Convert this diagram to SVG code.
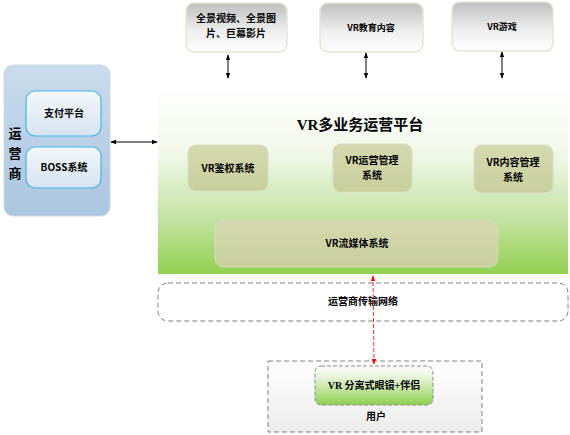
<svg xmlns="http://www.w3.org/2000/svg" width="570" height="435" viewBox="0 0 570 435">
<defs>
<linearGradient id="gTop" x1="0" y1="0" x2="0" y2="1"><stop offset="0" stop-color="#bfbfbf"/><stop offset="0.55" stop-color="#ececec"/><stop offset="1" stop-color="#ffffff"/></linearGradient>
<linearGradient id="gPlat" x1="0" y1="0" x2="0" y2="1"><stop offset="0" stop-color="#ffffff"/><stop offset="0.35" stop-color="#f1f8ea"/><stop offset="0.7" stop-color="#c3e3a2"/><stop offset="1" stop-color="#92d050"/></linearGradient>
<linearGradient id="gOp" x1="0" y1="0" x2="0" y2="1"><stop offset="0" stop-color="#c9dbed"/><stop offset="1" stop-color="#abc6df"/></linearGradient>
<linearGradient id="gIn" x1="0" y1="0" x2="0" y2="1"><stop offset="0" stop-color="#f3f7fb"/><stop offset="1" stop-color="#d6e3f0"/></linearGradient>
<linearGradient id="gSys" x1="0" y1="0" x2="0" y2="1"><stop offset="0" stop-color="#d4d9b0"/><stop offset="1" stop-color="#c8cf9c"/></linearGradient>
<linearGradient id="gUser" x1="0" y1="0" x2="0" y2="1"><stop offset="0" stop-color="#ffffff"/><stop offset="1" stop-color="#ececec"/></linearGradient>
<linearGradient id="gGl" x1="0" y1="0" x2="0" y2="1"><stop offset="0" stop-color="#ffffff"/><stop offset="0.3" stop-color="#e6f3d8"/><stop offset="1" stop-color="#8fcf4f"/></linearGradient>
<marker id="ab" viewBox="0 0 8 8" refX="7" refY="4" markerWidth="6" markerHeight="6" orient="auto-start-reverse"><path d="M0,1 L8,4 L0,7 Z" fill="#000"/></marker>
<marker id="ar" viewBox="0 0 8 8" refX="7" refY="4" markerWidth="6" markerHeight="6" orient="auto-start-reverse"><path d="M0,1 L8,4 L0,7 Z" fill="#ff0000"/></marker>
</defs>
<style>
.t{font-family:"Noto Sans CJK SC","DejaVu Sans",sans-serif;font-weight:bold;font-size:10px;fill:#000;text-anchor:middle}
.top{fill:url(#gTop);stroke:#e2e6d8;stroke-width:1.5}
.sys{fill:url(#gSys);stroke:#d9dcc0;stroke-width:1}
.inner{fill:url(#gIn);stroke:#3fb6e8;stroke-width:1.2}
.dash{fill:none;stroke:#7f7f7f;stroke-width:1;stroke-dasharray:5,3}
.v{font-size:13px}
</style>

<g id="operator">
<rect x="4" y="65" width="106" height="151" rx="9" fill="url(#gOp)" stroke="#d0d8e0"/>
<text class="t v" x="15" y="138">运</text>
<text class="t v" x="15" y="158">营</text>
<text class="t v" x="15" y="178">商</text>
</g>
<g id="pay"><rect class="inner" x="26" y="91" width="75" height="45" rx="9"/><text class="t" x="64" y="117">支付平台</text></g>
<g id="boss"><rect class="inner" x="26" y="147" width="75" height="41" rx="9"/><text class="t" x="64" y="171">BOSS系统</text></g>

<g id="platform">
<rect x="158" y="88" width="410" height="186" fill="url(#gPlat)"/>
<text x="360" y="130" text-anchor="middle" font-family="Liberation Serif,Noto Sans CJK SC,serif" font-weight="bold" font-size="15">VR多业务运营平台</text>
</g>

<g id="c1"><rect class="top" x="186" y="3" width="101" height="49" rx="8"/><text class="t" x="236" y="22">全景视频、全景图</text><text class="t" x="236" y="37">片、巨幕影片</text></g>
<g id="c2"><rect class="top" x="320" y="3" width="103" height="49" rx="8"/><text class="t" x="371" y="31" style="font-size:9px">VR教育内容</text></g>
<g id="c3"><rect class="top" x="452" y="2" width="101" height="49" rx="8"/><text class="t" x="502" y="30" style="font-size:9px">VR游戏</text></g>

<g id="auth"><rect class="sys" x="188" y="145" width="80" height="46" rx="8"/><text class="t" x="228" y="172">VR鉴权系统</text></g>
<g id="opm"><rect class="sys" x="333" y="144" width="79" height="48" rx="8"/><text class="t" x="372" y="164">VR运营管理</text><text class="t" x="372" y="179">系统</text></g>
<g id="cm"><rect class="sys" x="474" y="145" width="79" height="48" rx="8"/><text class="t" x="513" y="166">VR内容管理</text><text class="t" x="513" y="181">系统</text></g>
<g id="stream"><rect class="sys" x="215" y="220" width="283" height="47" rx="9"/><text class="t" x="357" y="247">VR流媒体系统</text></g>

<g id="network"><rect class="dash" x="158" y="283" width="410" height="38" rx="10"/><text class="t" x="363" y="305">运营商传输网络</text></g>

<g id="user">
<rect x="268" y="361" width="214" height="71" fill="url(#gUser)" stroke="#7f7f7f" stroke-dasharray="5,3"/>
<text class="t" x="376" y="420">用户</text>
</g>
<g id="glasses"><rect x="315" y="366" width="118" height="39" rx="6" fill="url(#gGl)" stroke="#8c8c8c" stroke-dasharray="4,2"/><text class="t" x="374" y="389" style="font-family:'Liberation Serif','Noto Sans CJK SC',serif">VR 分离式眼镜+伴侣</text></g>

<g id="connectors" fill="none">
<line x1="111" y1="142" x2="157" y2="142" stroke="#000" stroke-width="1" marker-start="url(#ab)" marker-end="url(#ab)"/>
<line x1="228" y1="55" x2="228" y2="78" stroke="#000" stroke-width="1" marker-start="url(#ab)" marker-end="url(#ab)"/>
<line x1="366" y1="53" x2="366" y2="78" stroke="#000" stroke-width="1" marker-start="url(#ab)" marker-end="url(#ab)"/>
<line x1="502" y1="52" x2="502" y2="78" stroke="#000" stroke-width="1" marker-start="url(#ab)" marker-end="url(#ab)"/>
<line x1="373" y1="276" x2="374" y2="364" stroke="#ff3333" stroke-width="1" stroke-dasharray="4,2" marker-start="url(#ar)" marker-end="url(#ar)"/>
</g>
</svg>
